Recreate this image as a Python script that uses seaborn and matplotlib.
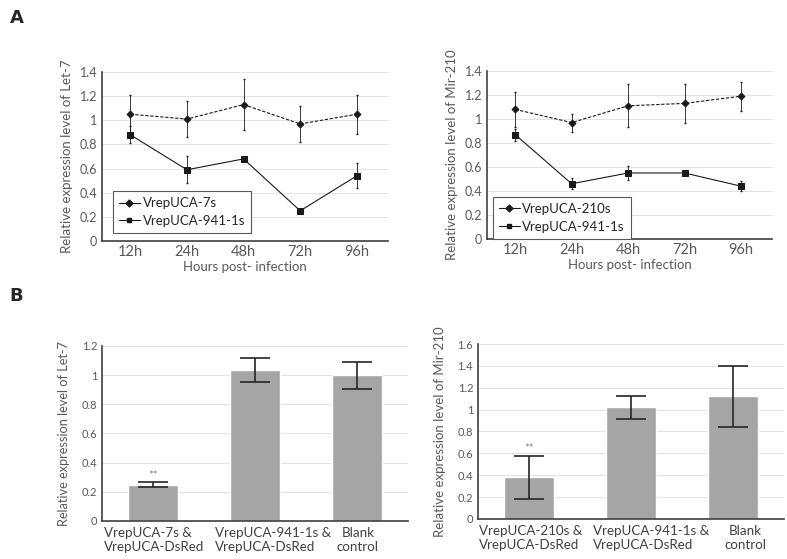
import matplotlib
matplotlib.use("Agg")
import matplotlib.pyplot as plt
import matplotlib.transforms as mtransforms
from matplotlib.lines import Line2D
import seaborn as sns

# time course (panel A)
hours = ["12h", "24h", "48h", "72h", "96h"]
let7_7s = [1.05, 1.01, 1.13, 0.97, 1.05]
let7_7s_err = [0.16, 0.15, 0.21, 0.15, 0.16]
let7_941 = [0.88, 0.59, 0.68, 0.25, 0.54]
let7_941_err = [0.07, 0.11, 0.01, 0.01, 0.105]
mir_210s = [1.08, 0.97, 1.11, 1.13, 1.19]
mir_210s_err = [0.145, 0.075, 0.18, 0.16, 0.12]
mir_941 = [0.87, 0.46, 0.55, 0.55, 0.44]
mir_941_err = [0.05, 0.045, 0.06, 0.02, 0.04]

# co-infection (panel B)
groups_let7 = ["VrepUCA-7s &\nVrepUCA-DsRed", "VrepUCA-941-1s &\nVrepUCA-DsRed", "Blank\ncontrol"]
bar_let7 = [0.25, 1.035, 1.0]
bar_let7_err = [0.015, 0.085, 0.093]
groups_mir = ["VrepUCA-210s &\nVrepUCA-DsRed", "VrepUCA-941-1s &\nVrepUCA-DsRed", "Blank\ncontrol"]
bar_mir = [0.38, 1.02, 1.12]
bar_mir_err = [0.195, 0.105, 0.28]

sns.set_style("white")
plt.rcParams['font.family'] = ['Lato', 'DejaVu Sans']

txt = "#595959"
dark = "#1a1a1a"
grid = "#e3e3e3"


def style_axes(ax, ymax, ytick_fs):
    ax.set_ylim(0, ymax)
    ticks = [round(0.2 * i, 1) for i in range(int(round(ymax / 0.2)) + 1)]
    ax.set_yticks(ticks)
    ax.set_yticklabels([f"{v:g}" for v in ticks])
    ax.yaxis.grid(True, color=grid, lw=0.8)
    ax.set_axisbelow(True)
    for s in ["top", "right"]:
        ax.spines[s].set_visible(False)
    for s in ["left", "bottom"]:
        ax.spines[s].set_color("#404040")
        ax.spines[s].set_linewidth(1.2)
    ax.tick_params(axis="both", length=0, colors=txt)
    ax.tick_params(axis="y", labelsize=ytick_fs)


def line_panel(ax, s1, e1, s2, e2, name1, ylabel, leg_xy):
    x = list(range(len(hours)))
    sns.lineplot(x=x, y=s1, ax=ax, color=dark, lw=0.8, legend=False,
                 marker="D", markersize=3.5, markeredgecolor=dark)
    ax.lines[-1].set_dashes((3, 1.5))
    sns.lineplot(x=x, y=s2, ax=ax, color=dark, lw=0.8, legend=False,
                 marker="s", markersize=4, markeredgecolor=dark)
    ax.errorbar(x, s1, yerr=e1, fmt="none", ecolor=dark, elinewidth=0.6, capsize=1)
    ax.errorbar(x, s2, yerr=e2, fmt="none", ecolor=dark, elinewidth=0.6, capsize=1)
    ax.set_xlim(-0.5, 4.55)
    ax.set_xticks(x)
    ax.set_xticklabels(hours)
    style_axes(ax, 1.4, 9)
    ax.tick_params(axis="x", labelsize=10.5, pad=3)
    ax.set_xlabel("Hours post- infection", color=txt, fontsize=9.5, labelpad=1)
    ax.set_ylabel(ylabel, color=txt, fontsize=9.5, labelpad=5)
    handles = [Line2D([], [], color=dark, lw=0.8, marker="D", markersize=3.5),
               Line2D([], [], color=dark, lw=0.8, marker="s", markersize=3.5)]
    leg = ax.legend(handles, [name1, "VrepUCA-941-1s"], loc="lower left",
                    bbox_to_anchor=leg_xy, borderaxespad=0, fontsize=9.5,
                    labelcolor="#262626", fancybox=False, framealpha=1,
                    edgecolor="#595959", handlelength=1.6, handletextpad=0.2,
                    borderpad=0.45, labelspacing=0.45)
    leg.get_frame().set_linewidth(0.8)


def bar_panel(ax, groups, vals, errs, ymax, ylabel, ylabel_fs, shifts):
    sns.barplot(x=groups, y=vals, ax=ax, color="#a5a5a5", saturation=1, width=0.49)
    ax.errorbar(range(len(vals)), vals, yerr=errs, fmt="none", ecolor="#262626",
                elinewidth=1.2, capsize=10.5, capthick=1.2)
    ax.set_xlim(-0.5, 2.5)
    style_axes(ax, ymax, 8)
    ax.tick_params(axis="x", labelsize=9.6, colors="#404040", pad=4)
    # Excel-like placement of the wrapped category labels
    for lab, (ha, dx) in zip(ax.get_xticklabels(), shifts):
        lab.set_horizontalalignment(ha)
        lab.set_multialignment("left" if ha == "left" else "center")
        lab.set_transform(lab.get_transform() +
                          mtransforms.ScaledTranslation(dx / 100, 0, ax.figure.dpi_scale_trans))
    ax.set_ylabel(ylabel, color=txt, fontsize=ylabel_fs, labelpad=8)
    ax.text(0, vals[0] + errs[0] + 0.01 * ymax, "**", ha="center", va="bottom",
            fontsize=8, color="#8c8c8c")


fig = plt.figure(figsize=(7.87, 5.59), dpi=100)
ax1 = fig.add_axes([0.1296, 0.5689, 0.3634, 0.3023])
ax2 = fig.add_axes([0.6188, 0.5725, 0.3622, 0.3005])
ax3 = fig.add_axes([0.1296, 0.0680, 0.3888, 0.3131])
ax4 = fig.add_axes([0.6074, 0.0716, 0.3888, 0.3130])

line_panel(ax1, let7_7s, let7_7s_err, let7_941, let7_941_err, "VrepUCA-7s",
           "Relative expression level of Let-7", (0.038, 0.047))
line_panel(ax2, mir_210s, mir_210s_err, mir_941, mir_941_err, "VrepUCA-210s",
           "Relative expression level of Mir-210", (0.02, 0.0))
bar_panel(ax3, groups_let7, bar_let7, bar_let7_err, 1.2,
          "Relative expression level of Let-7", 9.2,
          [("left", -49), ("left", -40), ("center", 1)])
bar_panel(ax4, groups_mir, bar_mir, bar_mir_err, 1.6,
          "Relative expression level of Mir-210", 9.5,
          [("left", -50), ("left", -38), ("center", 12)])

fig.text(0.012, 0.968, "A", fontsize=13, fontweight="bold", family="DejaVu Sans", va="center")
fig.text(0.012, 0.470, "B", fontsize=13, fontweight="bold", family="DejaVu Sans", va="center")

fig.savefig("out.png", dpi=100, facecolor="white")
